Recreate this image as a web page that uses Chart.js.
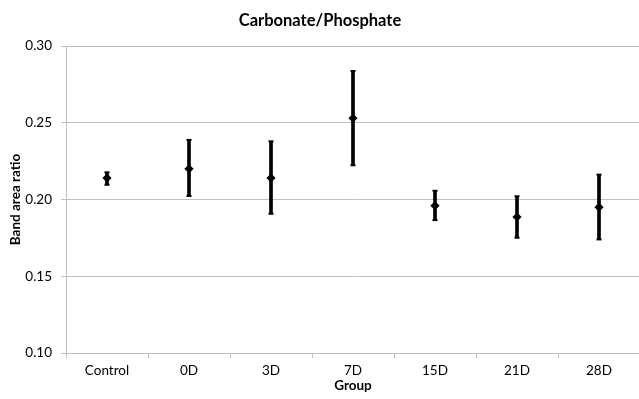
<!DOCTYPE html>
<html>
<head>
<meta charset="utf-8">
<script src="https://cdn.jsdelivr.net/npm/chart.js@4"></script>
<style>
  html, body { margin: 0; padding: 0; background: #fff; overflow: hidden; }
  #wrap { width: 639px; height: 399px; overflow: hidden; position: relative; }
  canvas { position: absolute; left: 0; top: 0; }
</style>
</head>
<body>
<div id="wrap"><canvas id="c" width="640" height="399" style="width:640px;height:399px"></canvas></div>
<script>
const categories = ['Control', '0D', '3D', '7D', '15D', '21D', '28D'];
const means = [0.214, 0.220, 0.214, 0.253, 0.196, 0.1886, 0.195];
const upper = [0.2177, 0.2388, 0.2379, 0.2837, 0.2057, 0.2021, 0.2162];
const lower = [0.2096, 0.2023, 0.1907, 0.2223, 0.1866, 0.1751, 0.1740];
const yTicks = [0.10, 0.15, 0.20, 0.25, 0.30];

const FONT = 'Lato, "Open Sans", sans-serif';
const ranges = categories.map((_, i) => [lower[i], upper[i]]);

new Chart(document.getElementById('c'), {
  type: 'bar',
  data: {
    labels: categories,
    datasets: [
      {
        type: 'line', data: means, showLine: false,
        pointStyle: 'rectRot', pointRadius: 4.6, pointBackgroundColor: '#000',
        pointBorderColor: '#000', pointBorderWidth: 0, order: 0
      },
      {
        type: 'line', data: upper, showLine: false,
        pointStyle: 'line', pointRadius: 2.5, pointBorderColor: '#000',
        pointBorderWidth: 2, order: 1
      },
      {
        type: 'line', data: lower, showLine: false,
        pointStyle: 'line', pointRadius: 2.5, pointBorderColor: '#000',
        pointBorderWidth: 2, order: 1
      },
      {
        type: 'bar', data: ranges, backgroundColor: '#000',
        barThickness: 3, borderWidth: 0, order: 2
      }
    ]
  },
  options: {
    responsive: false, maintainAspectRatio: false, animation: false,
    devicePixelRatio: 1,
    layout: { autoPadding: false, padding: 0 },
    plugins: {
      legend: { display: false },
      tooltip: { enabled: false },
      title: {
        display: true, text: 'Carbonate/Phosphate', color: '#000',
        font: { family: FONT, size: 16.5, weight: 'bold' },
        padding: { top: 11, bottom: 15.2 }
      }
    },
    scales: {
      x: {
        offset: true,
        grid: { display: true, drawOnChartArea: false, offset: true, color: '#bfbfbf', tickLength: 5 },
        border: { display: true, color: '#bfbfbf' },
        ticks: { color: '#000', font: { family: FONT, size: 13.5 }, padding: 5, maxRotation: 0 },
        title: { display: true, text: 'Group', color: '#000',
                 font: { family: FONT, size: 13.5, weight: 'bold' }, padding: { top: 0, bottom: 5 } },
        afterFit: (s) => { s.height = 46; }
      },
      y: {
        min: 0.10, max: 0.30,
        afterBuildTicks: (s) => { s.ticks = yTicks.map(v => ({ value: v })); },
        grid: { color: '#bfbfbf', tickLength: 5 },
        border: { display: true, color: '#bfbfbf' },
        ticks: { color: '#000', font: { family: FONT, size: 13.5 }, padding: 9,
                 callback: (v) => Number(v).toFixed(2) },
        title: { display: true, text: 'Band area ratio', color: '#000',
                 font: { family: FONT, size: 13.5, weight: 'bold' }, padding: { top: 8, bottom: 0 } },
        afterFit: (s) => { s.width = 66; }
      }
    }
  }
});
</script>
</body>
</html>
